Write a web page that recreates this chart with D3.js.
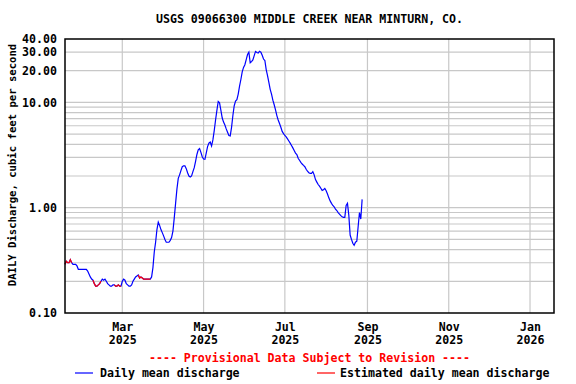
<!DOCTYPE html>
<html><head><meta charset="utf-8">
<script src="https://cdn.jsdelivr.net/npm/d3@7"></script>
<style>
body{margin:0;background:#fff}
svg{display:block}
text{font-family:"DejaVu Sans Mono","Liberation Mono",monospace;font-weight:bold}
</style>
</head><body>
<svg id="c" width="576" height="384"></svg>
<script>
const chartTitle = "USGS 09066300 MIDDLE CREEK NEAR MINTURN, CO.";
const yAxisTitle = "DAILY Discharge, cubic feet per second";
const provisionalNote = "---- Provisional Data Subject to Revision ----";
const legendLabels = ["Daily mean discharge", "Estimated daily mean discharge"];
const startDate = "2025-01-17";
const xDomain = ["2025-01-17", "2026-01-19"];
const yDomain = [0.1, 40];
const discharge = [
  0.29,0.31,0.30,0.30,0.32,0.30,0.29,0.29,0.29,0.28,
  0.26,0.26,0.26,0.26,0.26,0.26,0.26,0.25,0.235,0.22,
  0.21,0.205,0.19,0.18,0.18,0.185,0.19,0.20,0.21,0.205,
  0.21,0.20,0.19,0.185,0.18,0.18,0.185,0.185,0.18,0.18,
  0.185,0.18,0.18,0.20,0.21,0.205,0.19,0.185,0.18,0.18,
  0.185,0.20,0.21,0.22,0.225,0.23,0.215,0.22,0.215,0.21,
  0.21,0.21,0.21,0.21,0.21,0.22,0.27,0.38,0.47,0.62,
  0.73,0.68,0.62,0.58,0.54,0.50,0.47,0.47,0.47,0.49,
  0.52,0.60,0.80,1.1,1.5,1.9,2.05,2.25,2.45,2.5,
  2.5,2.35,2.15,2.0,1.96,2.0,2.2,2.4,2.75,3.2,
  3.55,3.65,3.35,3.05,2.9,2.88,3.3,3.8,4.1,4.2,
  3.85,4.4,5.4,6.8,8.4,10.2,9.9,8.4,7.1,6.5,
  6.1,5.6,5.2,4.85,4.8,5.8,7.5,9.3,10.3,10.6,
  12.0,14.3,16.5,19.5,21.5,22.8,25.5,28.5,30.0,23.8,
  24.4,25.3,27.8,30.5,29.8,29.4,30.6,30.0,28.0,25.8,
  25.0,20.5,18.0,15.5,13.3,12.0,10.5,9.5,8.5,7.5,
  6.8,6.3,5.8,5.3,5.05,4.85,4.7,4.5,4.3,4.1,
  3.9,3.7,3.5,3.3,3.2,2.95,2.82,2.7,2.6,2.52,
  2.45,2.32,2.22,2.15,2.12,2.12,2.2,2.05,1.85,1.75,
  1.66,1.6,1.53,1.46,1.48,1.52,1.45,1.35,1.24,1.16,
  1.1,1.05,1.02,0.97,0.94,0.9,0.87,0.84,0.82,0.81,
  0.81,1.05,1.1,0.85,0.55,0.50,0.46,0.44,0.47,0.48,
  0.66,0.9,0.78,1.2
];
const estimatedRanges = [[0,5],[21,27],[37,42],[55,64]];
const yTickValues = [0.1, 1, 10, 20, 30, 40];
const yTickLabels = ["0.10","1.00","10.00","20.00","30.00","40.00"];
const yGridValues = [0.2,0.3,0.4,0.5,0.6,0.7,0.8,0.9,1,2,3,4,5,6,7,8,9,10,20,30];
const xTickDates = ["2025-03-01","2025-05-01","2025-07-01","2025-09-01","2025-11-01","2026-01-01"];
const xTickMonths = ["Mar","May","Jul","Sep","Nov","Jan"];
const xTickYears = ["2025","2025","2025","2025","2025","2026"];

const parse = d3.utcParse("%Y-%m-%d");
const t0 = parse(startDate);
const data = discharge.map((v,i)=>({date:d3.utcDay.offset(t0,i), v}));

const L=65, R=554, T=39, B=313;
const x = d3.scaleUtc().domain(xDomain.map(parse)).range([L,R]);
const y = d3.scaleLog().domain(yDomain).range([B,T]);
const svg = d3.select("#c");
const FS = 11.6;

// grid
const g = svg.append("g");
g.selectAll("line.h").data(yGridValues).join("line")
  .attr("x1",L).attr("x2",R).attr("y1",d=>y(d)).attr("y2",d=>y(d))
  .attr("stroke","#c8c8c8").attr("stroke-width",1.2);
g.selectAll("line.v").data(xTickDates.map(parse)).join("line")
  .attr("x1",d=>x(d)).attr("x2",d=>x(d)).attr("y1",T).attr("y2",B)
  .attr("stroke","#c8c8c8").attr("stroke-width",1.2);

// y axis
const ya = svg.append("g").attr("transform",`translate(${L},0)`)
  .call(d3.axisLeft(y).tickValues(yTickValues).tickFormat((d,i)=>yTickLabels[i]).tickSize(0).tickPadding(8));
ya.select(".domain").remove();
ya.selectAll("text").attr("font-size",FS).attr("fill","#000")
  .style("font-family","DejaVu Sans Mono").style("font-weight","bold");

// x axis
const xa = svg.append("g").attr("transform",`translate(0,${B})`)
  .call(d3.axisBottom(x).tickValues(xTickDates.map(parse)).tickFormat("").tickSize(0));
xa.select(".domain").remove();
xa.selectAll(".tick").each(function(d,i){
  const t = d3.select(this);
  t.append("text").attr("y",18).attr("text-anchor","middle").attr("font-size",FS).attr("fill","#000").text(xTickMonths[i]);
  t.append("text").attr("y",31).attr("text-anchor","middle").attr("font-size",FS).attr("fill","#000").text(xTickYears[i]);
});

// lines
const line = d3.line().x(d=>x(d.date)).y(d=>y(d.v));
svg.append("path").datum(data).attr("d",line).attr("fill","none")
  .attr("stroke","#0000ff").attr("stroke-width",1.2);
estimatedRanges.forEach(([a,b])=>{
  svg.append("path").datum(data.slice(a,b+1)).attr("d",line).attr("fill","none")
    .attr("stroke","#ff0000").attr("stroke-width",1.2);
});

// frame
svg.append("rect").attr("x",L).attr("y",T).attr("width",R-L).attr("height",B-T)
  .attr("fill","none").attr("stroke","#000").attr("stroke-width",1.5);

// title
svg.append("text").attr("x",(L+R)/2).attr("y",23).attr("text-anchor","middle")
  .attr("font-size",FS).attr("fill","#000").text(chartTitle);
// y title
svg.append("text").attr("transform",`translate(16,165) rotate(-90)`)
  .attr("text-anchor","middle").attr("font-size",10.6).attr("fill","#000").text(yAxisTitle);
// provisional
svg.append("text").attr("x",(L+R)/2).attr("y",362).attr("text-anchor","middle")
  .attr("font-size",FS).attr("fill","#ff0000").text(provisionalNote);
// legend
const lg = svg.append("g");
[["#0000ff",75,100],["#ff0000",317,340]].forEach(([c,x0,tx],i)=>{
  lg.append("line").attr("x1",x0).attr("x2",x0+18).attr("y1",373).attr("y2",373).attr("stroke",c).attr("stroke-width",1.2);
  lg.append("text").attr("x",tx).attr("y",377).attr("font-size",FS).attr("fill","#000").text(legendLabels[i]);
});
</script>
</body></html>
